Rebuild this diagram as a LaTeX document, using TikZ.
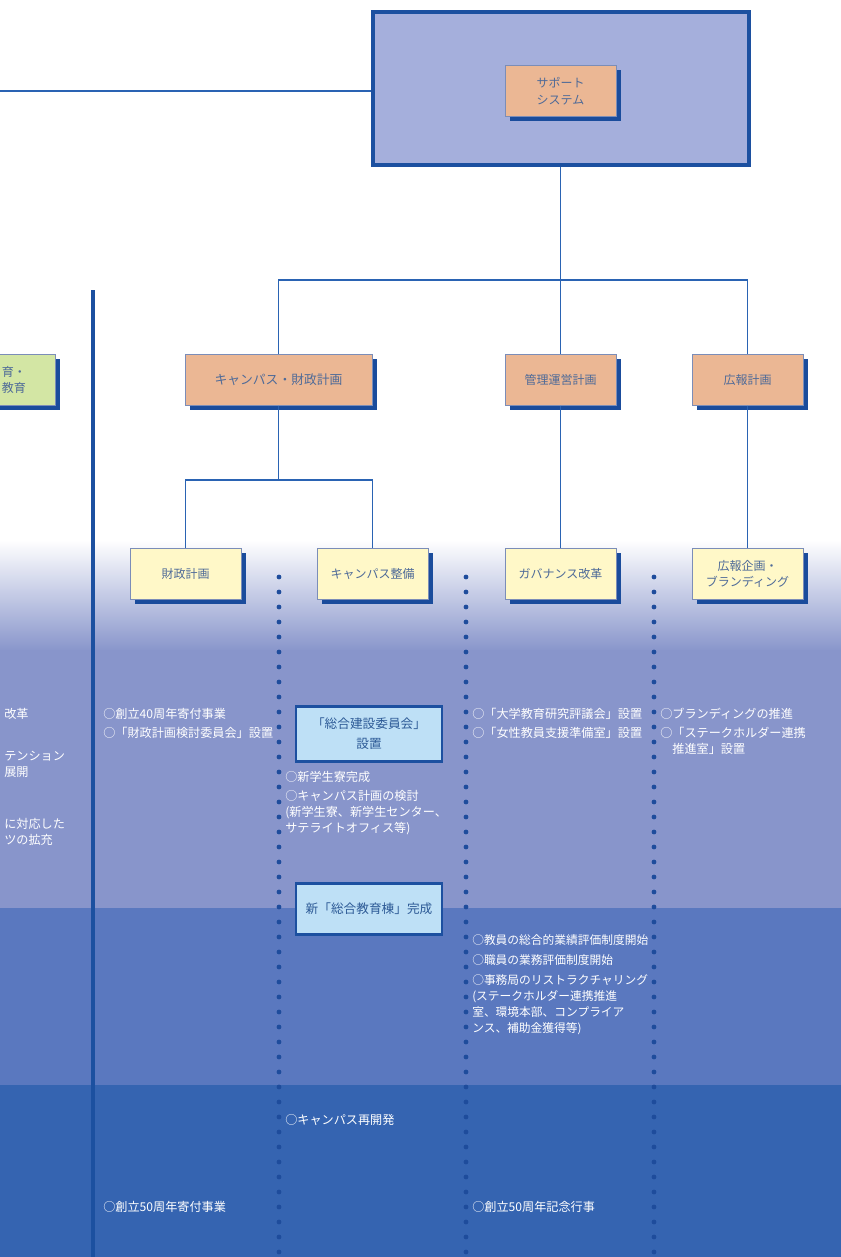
\documentclass[tikz,border=0pt]{standalone}
\usepackage{fontspec}
\newfontfamily\jp{Noto Sans CJK JP}
\usetikzlibrary{shadows}
\definecolor{framec}{HTML}{1C50A0}
\definecolor{linec}{HTML}{2A63B3}
\definecolor{shadowc}{HTML}{1A4C9C}
\definecolor{boxedge}{HTML}{7B8DB8}
\definecolor{planc}{HTML}{EBB794}
\definecolor{subc}{HTML}{FFF8C8}
\definecolor{goalc}{HTML}{D3E6A4}
\definecolor{eventc}{HTML}{BEE0F6}
\definecolor{sysc}{HTML}{A5AFDC}
\definecolor{labelc}{HTML}{4E6A98}
\definecolor{eventtext}{HTML}{2D5A96}
\definecolor{bandA}{HTML}{8895CB}
\definecolor{bandB}{HTML}{5A78BF}
\definecolor{bandC}{HTML}{3564B1}
\definecolor{dotc}{HTML}{1E4C9C}
\tikzset{
  box/.style={draw=boxedge, line width=0.6pt, text=labelc, align=center, inner sep=2pt,
    font=\jp\fontsize{9}{12.5}\selectfont, minimum width=83.25pt, minimum height=38pt,
    drop shadow={shadow xshift=3.5pt, shadow yshift=-3.5pt, fill=shadowc, opacity=1}},
  plan/.style={box, fill=planc},
  sub/.style={box, fill=subc},
  goal/.style={box, fill=goalc},
  event/.style={draw=framec, line width=2pt, fill=eventc, text=eventtext, align=center,
    font=\jp\fontsize{9.5}{15}\selectfont, minimum width=109.5pt, minimum height=38.25pt},
  note/.style={anchor=north west, inner sep=0pt, text=white, align=left,
    font=\jp\fontsize{9.1}{12}\selectfont},
  smallnote/.style={note, font=\jp\fontsize{8.8}{12}\selectfont},
  conn/.style={draw=linec, line width=1.4pt},
}
\begin{document}
\begin{tikzpicture}[x=0.75pt, y=-0.75pt, trim left=0pt, trim right=630pt]
\useasboundingbox (0,0) rectangle (840,1257);
% bands
\shade[top color=white, bottom color=bandA] (-20,540) rectangle (900,651);
\fill[bandA] (-20,650) rectangle (900,908);
\fill[bandB] (-20,908) rectangle (900,1085);
\fill[bandC] (-20,1085) rectangle (900,1280);
\draw[framec, line width=2.4pt] (93,290) -- (93,1270);
\foreach \x in {279,466,654}{
  \foreach \y in {577,592,...,1267}{
    \fill[dotc] (\x,\y) circle (1.8pt);
  }
}

% top system
\node[draw=framec, line width=3pt, fill=sysc, minimum width=282pt, minimum height=114.75pt] (sysframe) at (560.5,88.5) {};
\node[plan] (support) at (560.5,91) {サポート\\システム};
\coordinate (leftend) at (-20,91);
\draw[conn] (leftend) -- (leftend -| sysframe.west);

% plans
\node[goal, text width=39.75pt, inner xsep=21.75pt, align=right] (edu) at (-0.5,380) {育・\\教育};
\node[plan, minimum width=140.25pt, font=\jp\fontsize{9.6}{12.5}\selectfont] (campfin) at (278.5,380) {キャンパス・財政計画};
\node[plan] (kanri) at (560.5,380) {管理運営計画};
\node[plan] (kouhou) at (747.5,380) {広報計画};

\node[sub] (zaisei) at (185.5,574) {財政計画};
\node[sub] (campus) at (372.5,574) {キャンパス整備};
\node[sub] (gov) at (560.5,574) {ガバナンス改革};
\node[sub] (brand) at (747.5,574) {広報企画・\\ブランディング};

\coordinate (hub) at (560.5,280);
\coordinate (fork) at (278.5,480);
\draw[conn] (sysframe.south) -- (hub);
\draw[conn] (campfin.north) |- (hub) -| (kouhou.north);
\draw[conn] (hub) -- (kanri.north);
\draw[conn] (campfin.south) -- (fork);
\draw[conn] (zaisei.north) |- (fork) -| (campus.north);
\draw[conn] (kanri.south) -- (gov.north);
\draw[conn] (kouhou.south) -- (brand.north);

% events
\node[event, minimum height=41.25pt] (council) at (369,734) {「総合建設委員会」\\設置};
\node[event] (hall) at (369,909) {新「総合教育棟」完成};

% notes
\node[note] (l1) at (4,708) {改革};
\node[note] (l2) at (4,751) {テンション\\展開};
\node[note] (l3) at (4,818) {に対応した\\ツの拡充};

\node[note] (z1) at (103,708) {○創立40周年寄付事業};
\node[note] (z2) at (103,727) {○「財政計画検討委員会」設置};
\node[note] (z3) at (103,1201) {○創立50周年寄付事業};

\node[note] (c1) at (285,771) {○新学生寮完成};
\node[note] (c2) at (285,790) {○キャンパス計画の検討\\(新学生寮、新学生センター、\\サテライトオフィス等)};
\node[note] (c3) at (285,1114) {○キャンパス再開発};

\node[note] (g1) at (472,708) {○「大学教育研究評議会」設置};
\node[note] (g2) at (472,727) {○「女性教員支援準備室」設置};
\node[smallnote] (g3) at (472,934) {○教員の総合的業績評価制度開始};
\node[smallnote] (g4) at (472,954) {○職員の業務評価制度開始};
\node[smallnote] (g5) at (472,974) {○事務局のリストラクチャリング\\(ステークホルダー連携推進\\室、環境本部、コンプライア\\ンス、補助金獲得等)};
\node[note] (g6) at (472,1201) {○創立50周年記念行事};

\node[note] (b1) at (660,708) {○ブランディングの推進};
\node[note] (b2) at (660,727) {○「ステークホルダー連携\\\hspace{1em}推進室」設置};
\end{tikzpicture}
\end{document}
